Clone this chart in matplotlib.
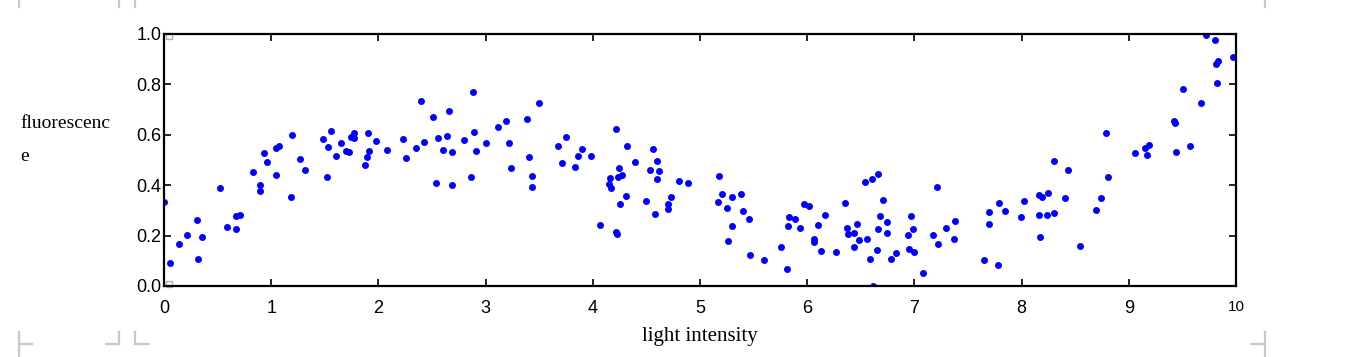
import numpy as np
import matplotlib.pyplot as plt
from matplotlib.lines import Line2D

# --------------------
# data
# --------------------

light = [
    0.00, 0.056, 0.143, 0.21, 0.31, 0.32, 0.35, 0.52, 0.59, 0.675,
    0.668, 0.705, 0.827, 0.90, 0.90, 0.93, 0.958, 1.048, 1.048, 1.07,
    1.185, 1.197, 1.272, 1.318, 1.486, 1.518, 1.527, 1.555, 1.604, 1.654,
    1.70, 1.726, 1.747, 1.772, 1.77, 1.878, 1.89, 1.91, 1.90, 1.975,
    2.08, 2.233, 2.254, 2.354, 2.397, 2.423, 2.506, 2.537, 2.553, 2.60,
    2.643, 2.656, 2.684, 2.684, 2.80, 2.867, 2.88, 2.895, 2.91, 3.007,
    3.12, 3.187, 3.215, 3.24, 3.383, 3.495, 3.402, 3.436, 3.43, 3.678,
    3.753, 3.716, 3.859, 3.90, 3.837, 3.983, 4.067, 4.157, 4.148, 4.167,
    4.216, 4.213, 4.223, 4.24, 4.232, 4.272, 4.25, 4.307, 4.316, 4.39,
    4.493, 4.53, 4.565, 4.596, 4.615, 4.596, 4.577, 4.698, 4.704, 4.727,
    4.807, 4.888, 5.174, 5.205, 5.171, 5.255, 5.30, 5.38, 5.30, 5.258,
    5.40, 5.454, 5.47, 5.60, 5.753, 5.815, 5.82, 5.827, 5.886, 5.933,
    5.973, 6.014, 6.063, 6.066, 6.10, 6.163, 6.126, 6.269, 6.35, 6.368,
    6.377, 6.437, 6.467, 6.48, 6.44, 6.558, 6.536, 6.607, 6.586, 6.61,
    6.657, 6.707, 6.682, 6.747, 6.663, 6.742, 6.654, 6.779, 6.826, 6.971,
    6.99, 6.94, 6.947, 7.00, 7.083, 7.208, 7.17, 7.217, 7.292, 7.376,
    7.37, 7.646, 7.693, 7.693, 7.777, 7.792, 7.842, 7.995, 8.025, 8.165,
    8.19, 8.243, 8.165, 8.234, 8.172, 8.30, 8.302, 8.436, 8.408, 8.545,
    8.694, 8.744, 8.81, 8.787, 9.055, 9.148, 9.19, 9.167, 9.44, 9.419,
    9.428, 9.503, 9.568, 9.676, 9.717, 9.804, 9.829, 9.816, 9.82, 9.972,
]

fluor = [
    0.332, 0.093, 0.165, 0.201, 0.261, 0.106, 0.196, 0.389, 0.233, 0.225,
    0.279, 0.282, 0.451, 0.401, 0.377, 0.529, 0.492, 0.439, 0.546, 0.557,
    0.353, 0.599, 0.505, 0.459, 0.583, 0.433, 0.553, 0.616, 0.515, 0.566,
    0.534, 0.530, 0.593, 0.606, 0.586, 0.481, 0.511, 0.537, 0.608, 0.575,
    0.538, 0.583, 0.507, 0.548, 0.735, 0.570, 0.671, 0.407, 0.589, 0.540,
    0.594, 0.694, 0.401, 0.533, 0.579, 0.431, 0.771, 0.611, 0.537, 0.567,
    0.631, 0.655, 0.567, 0.468, 0.664, 0.726, 0.512, 0.437, 0.393, 0.557,
    0.591, 0.489, 0.516, 0.545, 0.473, 0.517, 0.243, 0.430, 0.405, 0.390,
    0.622, 0.213, 0.205, 0.468, 0.433, 0.440, 0.324, 0.357, 0.554, 0.493,
    0.339, 0.459, 0.545, 0.497, 0.458, 0.426, 0.284, 0.304, 0.325, 0.353,
    0.417, 0.409, 0.435, 0.365, 0.332, 0.308, 0.353, 0.364, 0.237, 0.178,
    0.296, 0.265, 0.122, 0.103, 0.155, 0.066, 0.237, 0.274, 0.265, 0.231,
    0.327, 0.316, 0.187, 0.176, 0.241, 0.283, 0.140, 0.134, 0.328, 0.230,
    0.205, 0.210, 0.246, 0.181, 0.156, 0.187, 0.414, 0.426, 0.106, 0.001,
    0.446, 0.343, 0.276, 0.255, 0.225, 0.209, 0.142, 0.106, 0.130, 0.276,
    0.225, 0.201, 0.147, 0.134, 0.053, 0.393, 0.204, 0.165, 0.229, 0.259,
    0.188, 0.102, 0.292, 0.245, 0.082, 0.328, 0.299, 0.274, 0.336, 0.360,
    0.352, 0.369, 0.281, 0.281, 0.196, 0.496, 0.288, 0.462, 0.348, 0.160,
    0.300, 0.348, 0.433, 0.607, 0.526, 0.549, 0.560, 0.519, 0.533, 0.656,
    0.647, 0.782, 0.556, 0.727, 0.997, 0.976, 0.894, 0.880, 0.806, 0.909,
]

xticks = list(range(0, 11))
yticks = [0.0, 0.2, 0.4, 0.6, 0.8, 1.0]

# --------------------
# figure
# --------------------

W, H = 1368, 357
fig = plt.figure(figsize=(W / 100, H / 100), dpi=100)
ax = fig.add_axes([164 / W, 71 / H, 1072 / W, 252 / H])

ax.plot(light, fluor, "o", color="blue", ms=5, mew=0)

ax.set_xlim(0, 10)
ax.set_ylim(0, 1)
ax.set_xticks(xticks)
ax.set_yticks(yticks)
ax.set_xticklabels([str(t) for t in xticks], family="Liberation Sans", fontsize=13)
ax.set_yticklabels(["%.1f" % t for t in yticks], family="Liberation Sans", fontsize=13)
ax.get_xticklabels()[-1].set_fontsize(11)

ax.tick_params(direction="in", length=5, width=1.2, top=True, right=True,
               labeltop=False, labelright=False)
ax.tick_params(axis="y", pad=2)
ax.tick_params(axis="x", pad=10)
for s in ax.spines.values():
    s.set_linewidth(1.6)

ax.set_xlabel("light intensity", family="Liberation Serif", fontsize=15, labelpad=7)
fig.text(20 / W, 1 - 115 / H, "fluorescenc\ne", family="Liberation Serif",
         fontsize=14, ha="left", va="top", linespacing=2.25)

# little grey squares at the axes corners
ax.plot([0.047, 0.047], [0.992, 0.008], "s", ms=4, mfc="none", mec="#b0b0b0",
        mew=1, clip_on=False)

# --------------------
# page crop marks (grey)
# --------------------

def mark(x0, y0, x1, y1):
    fig.add_artist(Line2D([x0 / W, x1 / W], [1 - y0 / H, 1 - y1 / H],
                          transform=fig.transFigure, color="#c8c8c8", lw=1.6))

for xm in [19, 119, 135, 1265]:
    mark(xm, 0, xm, 7)
mark(19, 332, 19, 357)
mark(19, 344, 32, 344)
mark(119, 332, 119, 344)
mark(106, 344, 119, 344)
mark(135, 332, 135, 344)
mark(135, 344, 148, 344)
mark(1265, 332, 1265, 357)
mark(1252, 344, 1265, 344)

fig.savefig("out.png", dpi=100)
